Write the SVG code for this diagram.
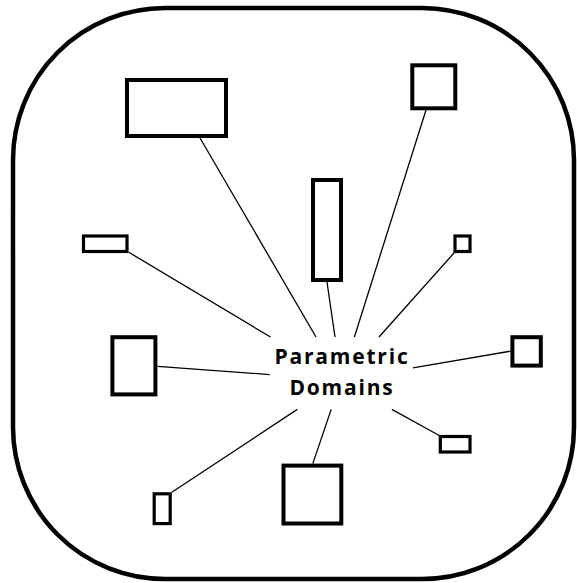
<svg xmlns="http://www.w3.org/2000/svg" width="577" height="583" viewBox="0 0 577 583">
  <style>
    .frame { fill: none; stroke: #000; stroke-width: 4.5; }
    .box { fill: #fff; stroke: #000; stroke-width: 4; }
    .sbox { fill: #fff; stroke: #000; stroke-width: 3.2; }
    .conn line { stroke: #000; stroke-width: 1.3; }
    .label { font-family: "Open Sans", "Noto Sans", "Liberation Sans", sans-serif; font-weight: bold; font-size: 21px; letter-spacing: 1.8px; text-anchor: middle; fill: #000; }
  </style>
  <rect width="577" height="583" fill="#fff"/>
  <rect id="frame" class="frame" x="13" y="8" width="561" height="571" rx="152" ry="152"/>
  <g id="connectors" class="conn">
    <line x1="200" y1="138" x2="316" y2="337"/>
    <line x1="327" y1="282" x2="335" y2="337"/>
    <line x1="426" y1="110" x2="354.4" y2="337"/>
    <line x1="454" y1="253" x2="379" y2="337"/>
    <line x1="128.8" y1="252.3" x2="270.5" y2="337"/>
    <line x1="157.5" y1="366.3" x2="269.7" y2="374.6"/>
    <line x1="510.4" y1="351.2" x2="412.9" y2="367.9"/>
    <line x1="391.9" y1="409.4" x2="439.7" y2="435.8"/>
    <line x1="331.2" y1="409.4" x2="312.8" y2="463.6"/>
    <line x1="171.8" y1="492.3" x2="297.3" y2="409.4"/>
  </g>
  <g id="node-top-left"><rect class="box" x="127" y="80" width="99" height="56"/></g>
  <g id="node-top-right"><rect class="box" x="412.3" y="65.3" width="43" height="43"/></g>
  <g id="node-tall"><rect class="box" x="313" y="180" width="28" height="100"/></g>
  <g id="node-small-left"><rect class="sbox" x="83.5" y="236" width="43.5" height="15.5"/></g>
  <g id="node-small-right"><rect class="sbox" x="455" y="236" width="15" height="15.5"/></g>
  <g id="node-mid-left"><rect class="box" x="112.4" y="337.2" width="43" height="57.2"/></g>
  <g id="node-mid-right"><rect class="box" x="512.4" y="337.2" width="28.4" height="28.4"/></g>
  <g id="node-bottom-right"><rect class="sbox" x="440.3" y="436.5" width="29.7" height="15.5"/></g>
  <g id="node-bottom-center"><rect class="box" x="283.5" y="465.6" width="57.8" height="57.9"/></g>
  <g id="node-bottom-left"><rect class="sbox" x="154.2" y="493.8" width="16" height="29.8"/></g>
  <g id="node-center">
    <text class="label" x="342" y="364">Parametric</text>
    <text class="label" x="342" y="395">Domains</text>
  </g>
</svg>
